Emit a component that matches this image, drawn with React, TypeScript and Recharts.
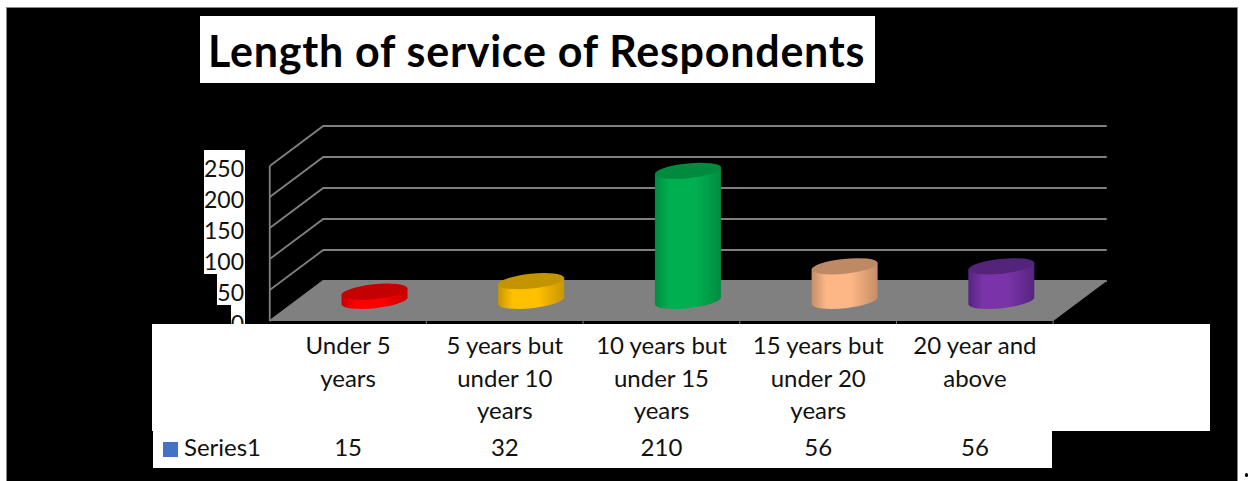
import * as React from 'react';
import { Bar, BarChart, CartesianGrid, Legend, XAxis, YAxis } from 'recharts';

const chartTitle = 'Length of service of Respondents';
const seriesName = 'Series1';
const categories = [
  'Under 5 years',
  '5 years but under 10 years',
  '10 years but under 15 years',
  '15 years but under 20 years',
  '20 year and above',
];
const categoryLines = [
  ['Under 5', 'years'],
  ['5 years but', 'under 10', 'years'],
  ['10 years but', 'under 15', 'years'],
  ['15 years but', 'under 20', 'years'],
  ['20 year and', 'above'],
];
const respondents = [15, 32, 210, 56, 56];
const valueTicks = [0, 50, 100, 150, 200, 250];

// side colour, top cap colour, darker edge colour
const sideColors = ['#ff0000', '#ffc000', '#00b050', '#fdb685', '#7a33a8'];
const capColors = ['#c40000', '#c49400', '#008a3e', '#bd8a65', '#54247a'];
const edgeColors = ['#c80000', '#c89600', '#008c40', '#c48e68', '#552580'];

const FONT = 'Lato, "Noto Sans", sans-serif';
const PLOT_TOP = 146;
const PLOT_BOTTOM = 301;
const DEPTH_X = 26.75; // half of the floor's sideways shift
const DEPTH_Y = 20;
const BAND = 156.5;

const data = categories.map((category, i) => ({ category, respondents: respondents[i] }));

function WallLine(props: any) {
  const { x1, x2, y1 } = props;
  const left = x1 - DEPTH_X;
  const right = x2 + DEPTH_X;
  const isFloor = Math.abs(y1 - PLOT_BOTTOM) < 1;
  return (
    <g>
      {isFloor && (
        <>
          <polygon
            points={`${left},${y1 + DEPTH_Y} ${x1 + DEPTH_X},${y1 - DEPTH_Y} ${right},${y1 - DEPTH_Y} ${x2 - DEPTH_X},${y1 + DEPTH_Y}`}
            fill="#808080"
          />
          <line x1={left} x2={left} y1={PLOT_BOTTOM + DEPTH_Y} y2={PLOT_TOP + DEPTH_Y} stroke="#808080" strokeWidth={1.8} />
        </>
      )}
      <polyline
        points={`${left},${y1 + DEPTH_Y} ${x1 + DEPTH_X},${y1 - DEPTH_Y} ${right},${y1 - DEPTH_Y}`}
        fill="none"
        stroke="#808080"
        strokeWidth={1.8}
      />
    </g>
  );
}

function ValueTick(props: any) {
  const { y, payload } = props;
  const label = String(payload.value);
  const boxX = 245 - (label.length === 3 ? 41 : label.length === 2 ? 28 : 14);
  return (
    <g>
      <rect x={boxX} y={y + DEPTH_Y - 16} width={245 - boxX} height={31} fill="#ffffff" />
      <text x={244} y={y + DEPTH_Y + 11} textAnchor="end" fontFamily={FONT} fontSize={23} fill="#111111">
        {label}
      </text>
    </g>
  );
}

function CategoryTick(props: any) {
  const { x, index } = props;
  const cx = x - DEPTH_X;
  const y = PLOT_BOTTOM;
  return (
    <g>
      {index === 0 && (
        <>
          <rect x={152} y={y + 23} width={1058} height={107} fill="#ffffff" />
          <rect x={153} y={y + 130} width={899} height={37} fill="#ffffff" />
        </>
      )}
      <line x1={cx + BAND / 2} x2={cx + BAND / 2} y1={y + 18} y2={y + 23} stroke="#777777" />
      {categoryLines[index].map((line, i) => (
        <text
          key={line}
          x={cx}
          y={y + 53 + i * 32.6}
          textAnchor="middle"
          fontFamily={FONT}
          fontSize={24}
          fill="#111111"
        >
          {line}
        </text>
      ))}
      <text x={cx} y={y + 155} textAnchor="middle" fontFamily={FONT} fontSize={24} fill="#111111">
        {respondents[index]}
      </text>
    </g>
  );
}

function Cylinder(props: any) {
  const { x, y, width, height, index } = props;
  const rx = width / 2 + 0.2;
  const ry = 7.4;
  const rise = 3.5;
  const right = x + width;
  const bottom = y + height;
  const gradientId = `cylinder-side-${index}`;
  return (
    <g>
      <defs>
        <linearGradient id={gradientId} x1="0" x2="1" y1="0" y2="0">
          <stop offset="0" stopColor={edgeColors[index]} />
          <stop offset="0.22" stopColor={sideColors[index]} />
          <stop offset="0.6" stopColor={sideColors[index]} />
          <stop offset="1" stopColor={edgeColors[index]} />
        </linearGradient>
      </defs>
      <path
        d={`M${x},${y + rise} L${x},${bottom + rise} A${rx},${ry} -6 0 0 ${right},${bottom - rise} L${right},${y - rise} Z`}
        fill={`url(#${gradientId})`}
      />
      <ellipse
        cx={x + width / 2}
        cy={y}
        rx={rx}
        ry={ry}
        transform={`rotate(-6 ${x + width / 2} ${y})`}
        fill={capColors[index]}
      />
    </g>
  );
}

export default function App() {
  return (
    <div style={{ position: 'absolute', left: 0, top: 0, width: 1248, height: 481, overflow: 'hidden', background: '#ffffff' }}>
      <style>{'body{margin:0;background:#fff}'}</style>
      <div
        style={{
          position: 'absolute',
          left: 6,
          top: 7,
          width: 1232,
          height: 480,
          boxSizing: 'border-box',
          background: '#000000',
          border: '1px solid #8a8a8a',
        }}
      />
      <div
        style={{
          position: 'absolute',
          left: 200,
          top: 16,
          width: 667,
          height: 67,
          paddingLeft: 8,
          background: '#ffffff',
          color: '#000000',
          fontFamily: FONT,
          fontWeight: 700,
          fontSize: 43,
          letterSpacing: 0.75,
          lineHeight: '69px',
          whiteSpace: 'nowrap',
        }}
      >
        {chartTitle}
      </div>
      <div
        style={{
          position: 'absolute',
          left: 1245,
          top: 473,
          width: 3,
          height: 4,
          borderRadius: 2,
          background: '#000000',
        }}
      />
      <div style={{ position: 'absolute', left: 0, top: 0 }}>
        <BarChart
          width={1248}
          height={481}
          data={data}
          margin={{ top: PLOT_TOP, bottom: 480 - PLOT_BOTTOM, left: 295.5, right: 168 }}
        >
          <CartesianGrid vertical={false} horizontal={(p: any) => <WallLine key={p.index} {...p} />} />
          <YAxis
            type="number"
            domain={[0, 250]}
            ticks={valueTicks}
            width={1}
            axisLine={false}
            tickLine={false}
            interval={0}
            tick={ValueTick}
          />
          <XAxis
            dataKey="category"
            height={1}
            axisLine={false}
            tickLine={false}
            interval={0}
            tick={CategoryTick}
          />
          <Legend
            layout="horizontal"
            verticalAlign="middle"
            align="center"
            iconType="square"
            iconSize={15}
            wrapperStyle={{ position: 'absolute', left: 152, top: 432, width: 130, height: 28, fontFamily: FONT, fontSize: 24 }}
            formatter={(value: string) => <span style={{ color: '#111111', marginLeft: 2 }}>{value}</span>}
          />
          <Bar
            dataKey="respondents"
            name={seriesName}
            fill="#4472c4"
            barSize={66}
            isAnimationActive={false}
            shape={Cylinder}
          />
        </BarChart>
      </div>
    </div>
  );
}
